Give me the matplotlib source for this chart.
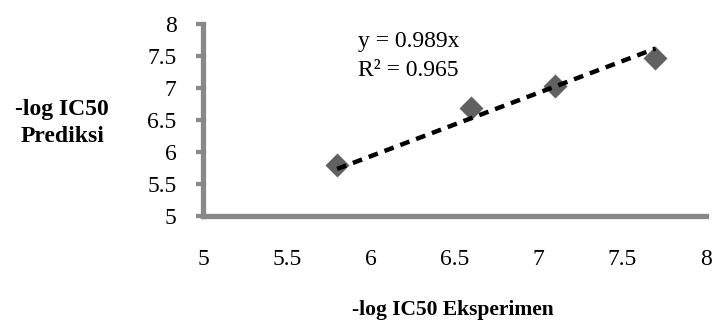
import numpy as np
import matplotlib.pyplot as plt

# Data
eksperimen = [5.8, 6.6, 7.1, 7.7]
prediksi = [5.8, 6.69, 7.03, 7.47]
slope = 0.989
r2 = 0.965
ticks = [5, 5.5, 6, 6.5, 7, 7.5, 8]
tick_labels = ['5', '5.5', '6', '6.5', '7', '7.5', '8']

plt.rcParams['font.family'] = ['Liberation Serif', 'DejaVu Serif']

fig = plt.figure(figsize=(7.15, 3.23), dpi=100)
ax = fig.add_axes([0.284, 0.331, 0.703, 0.595])

# Trendline through origin
xt = np.array([min(eksperimen), max(eksperimen)])
ax.plot(xt, slope * xt, color='black', linestyle=(0, (2.2, 1.6)), linewidth=3.2, zorder=3)

ax.scatter(eksperimen, prediksi, marker='D', s=150, color='#616161', zorder=2, linewidths=0)

ax.set_xlim(5, 8)
ax.set_ylim(5, 8)
ax.set_xticks(ticks)
ax.set_xticklabels(tick_labels)
ax.set_yticks(ticks)
ax.set_yticklabels(tick_labels)

for s in ['top', 'right']:
    ax.spines[s].set_visible(False)
for s in ['left', 'bottom']:
    ax.spines[s].set_color('#888888')
    ax.spines[s].set_linewidth(3.8)

ax.tick_params(axis='x', length=0, pad=24, labelsize=17)
ax.tick_params(axis='y', length=5, width=3, color='#888888', pad=14, labelsize=17)

ax.text(0.308, 0.88, 'y = 0.989x', transform=ax.transAxes, fontsize=17)
ax.text(0.308, 0.73, 'R² = 0.965', transform=ax.transAxes, fontsize=17)

fig.text(0.087, 0.62, '-log IC50\nPrediksi', ha='center', va='center',
         fontsize=17, fontweight='bold', linespacing=1.4)
fig.text(0.634, 0.04, '-log IC50 Eksperimen', ha='center', va='center',
         fontsize=15.5, fontweight='bold')

fig.savefig('out.png', dpi=100)
